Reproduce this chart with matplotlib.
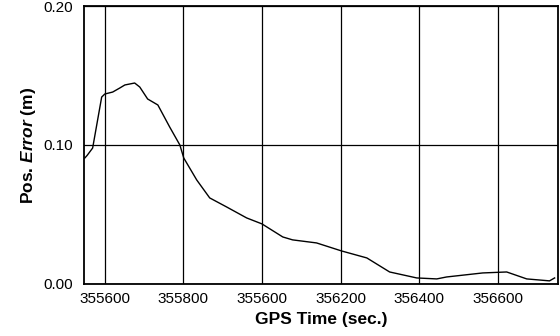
import matplotlib
matplotlib.use("Agg")
import matplotlib.pyplot as plt

# GPS time (s) and position error (m)
gps_time = [355549, 355555, 355569, 355592, 355600, 355620, 355638, 355651, 355676,
            355689, 355709, 355735, 355765, 355791, 355801, 355834, 355867,
            355910, 355961, 356000, 356053, 356078, 356139, 356203, 356267,
            356325, 356394, 356445, 356470, 356562, 356623, 356674, 356732,
            356745]
pos_error = [0.0906, 0.0925, 0.0978, 0.1345, 0.1367, 0.1381, 0.1410, 0.1432, 0.1446,
             0.1417, 0.1331, 0.1288, 0.1130, 0.1000, 0.0906, 0.0748, 0.0619,
             0.0554, 0.0475, 0.0432, 0.0338, 0.0317, 0.0295, 0.0237, 0.0187,
             0.0086, 0.0043, 0.0036, 0.0050, 0.0079, 0.0086, 0.0036, 0.0022,
             0.0043]

xticks = [355600, 355800, 356000, 356200, 356400, 356600]
xtick_labels = ["355600", "355800", "355600", "356200", "356400", "356600"]
yticks = [0.0, 0.1, 0.2]
ytick_labels = ["0.00", "0.10", "0.20"]

plt.rcParams['font.family'] = ['Liberation Sans', 'DejaVu Sans']
plt.rcParams['mathtext.fontset'] = 'custom'
plt.rcParams['mathtext.it'] = 'Liberation Sans:italic:bold'
plt.rcParams['mathtext.rm'] = 'Liberation Sans:bold'

fig = plt.figure(figsize=(5.6, 3.36), dpi=100)
ax = fig.add_axes([0.15, 0.155, 0.846, 0.827])

ax.plot(gps_time, pos_error, color='black', lw=1.0)

ax.set_xlim(355547, 356753)
ax.set_ylim(0, 0.2)
ax.set_xticks(xticks)
ax.set_xticklabels(xtick_labels)
ax.set_yticks(yticks)
ax.set_yticklabels(ytick_labels)
ax.tick_params(length=0, labelsize=11)
ax.tick_params(axis='x', pad=6)
ax.tick_params(axis='y', pad=8)
ax.grid(True, color='black', lw=0.9)
for s in ax.spines.values():
    s.set_linewidth(1.3)

ax.set_xlabel("GPS Time (sec.)", fontsize=12.5, fontweight='bold', labelpad=4)
ax.set_ylabel(r"Pos. $\mathit{Error}$ (m)", fontsize=12.5, fontweight='bold', labelpad=4)

fig.savefig("out.png", dpi=100)
